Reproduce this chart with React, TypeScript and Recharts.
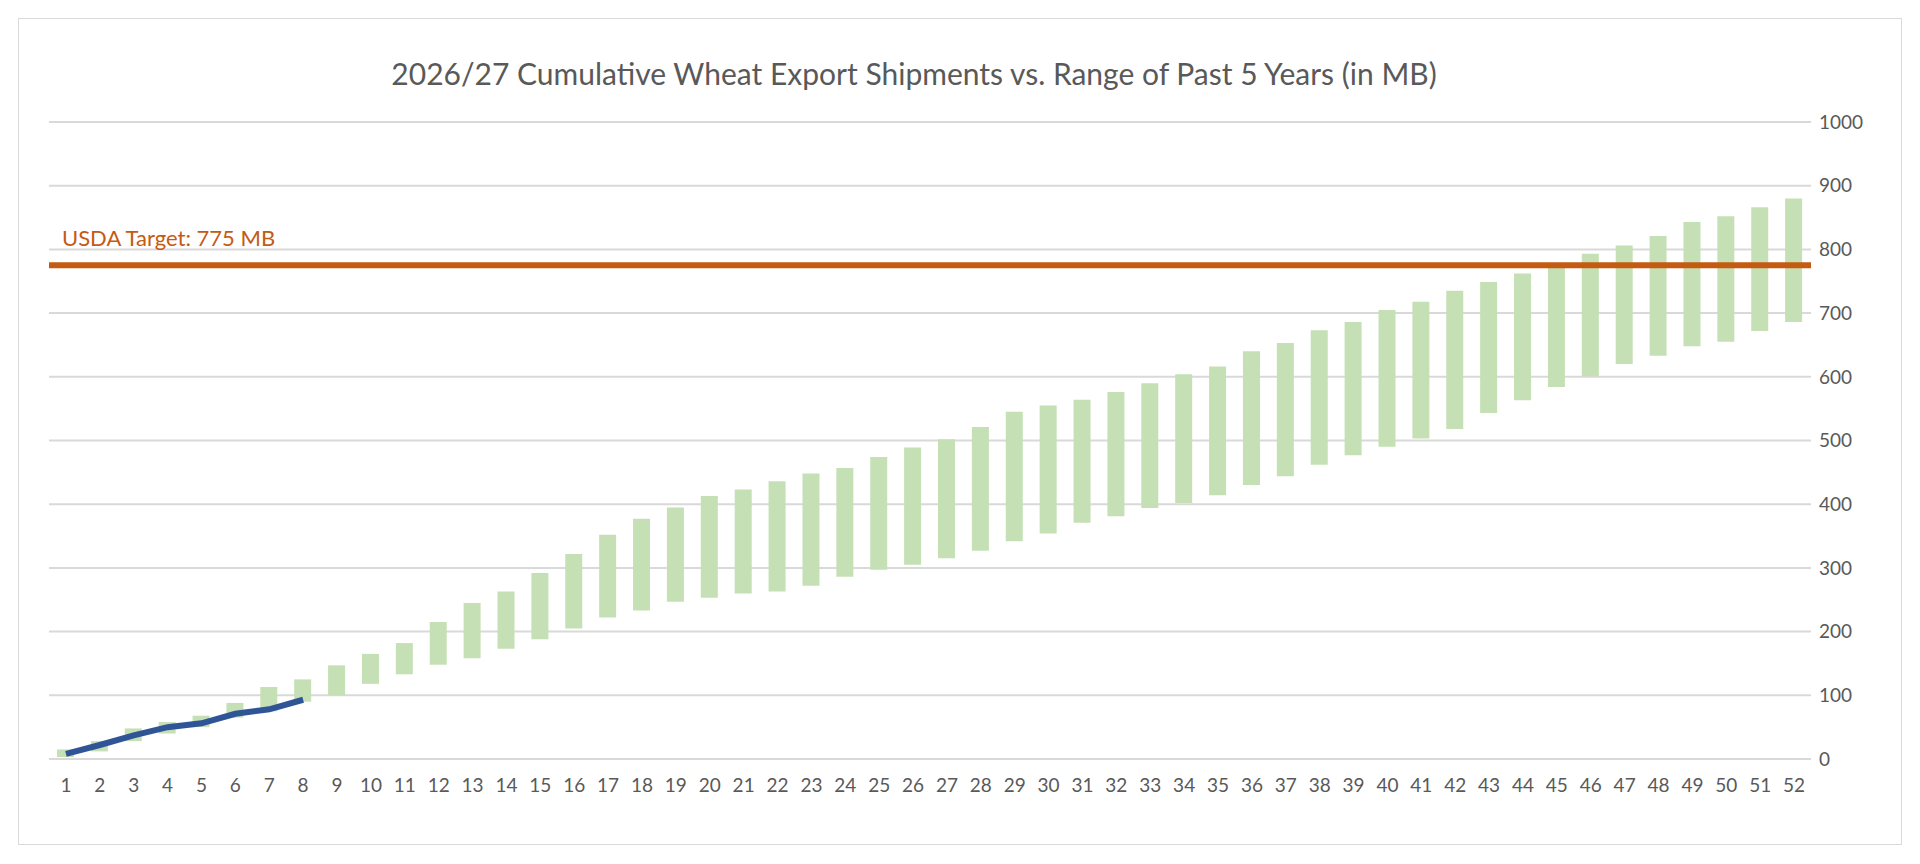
import { Bar, ComposedChart, CartesianGrid, Line, ReferenceLine, XAxis, YAxis } from 'recharts'

const weeks = Array.from({ length: 52 }, (_, i) => String(i + 1))
const rangeLow = [3, 12, 28, 40, 50, 65, 75, 90, 100, 118, 133, 148, 158, 173, 188, 205, 222, 233, 247, 253, 260, 263, 272, 286, 297, 305, 315, 327, 342, 354, 371, 381, 394, 402, 414, 430, 444, 462, 477, 490, 503, 518, 543, 563, 584, 601, 620, 633, 648, 655, 672, 686]
const rangeHigh = [15, 28, 48, 58, 68, 88, 113, 125, 147, 165, 182, 215, 245, 263, 292, 322, 352, 377, 395, 413, 423, 436, 448, 457, 474, 489, 502, 521, 545, 555, 564, 576, 590, 604, 616, 640, 653, 673, 686, 705, 718, 735, 749, 762, 777, 793, 806, 821, 843, 852, 866, 880]
const current = [8, 22, 37, 50, 56, 71, 78, 93]
const yTicks = [0, 100, 200, 300, 400, 500, 600, 700, 800, 900, 1000]
const target = 775

const data = weeks.map((w, i) => ({
  week: w,
  range: [rangeLow[i], rangeHigh[i]],
  current: i < current.length ? current[i] : null,
}))

const font = 'Lato, "Open Sans", sans-serif'
const tick = { fill: '#595959', fontSize: 19, fontFamily: font }

export default function App() {
  return (
    <div style={{ position: 'absolute', left: 18, top: 18, width: 1882, height: 825, border: '1px solid #d9d9d9', background: '#fff' }}>
      <div style={{ position: 'absolute', top: 36, left: 0, width: 1790, textAlign: 'center', fontFamily: font, fontSize: 30, color: '#595959' }}>
        2026/27 Cumulative Wheat Export Shipments vs. Range of Past 5 Years (in MB)
      </div>
      <ComposedChart width={1882} height={825} data={data} margin={{ top: 103, right: 25, left: 30, bottom: 55 }}>
        <CartesianGrid vertical={false} stroke="#d9d9d9" strokeWidth={2} />
        <XAxis dataKey="week" tick={tick} tickLine={false} axisLine={false} interval={0} tickMargin={14} height={30} />
        <YAxis orientation="right" domain={[0, 1000]} ticks={yTicks} tick={tick} tickLine={false} axisLine={false} width={65} />
        <Bar dataKey="range" fill="#c5e0b4" barSize={17} isAnimationActive={false} />
        <ReferenceLine
          y={target}
          stroke="#c55a11"
          strokeWidth={6}
          label={{ value: 'USDA Target: 775 MB', position: 'insideTopLeft', fill: '#c55a11', fontSize: 22, fontFamily: font, dx: 8, dy: -40 }}
        />
        <Line dataKey="current" stroke="#2f5597" strokeWidth={6} dot={false} connectNulls={false} isAnimationActive={false} />
      </ComposedChart>
    </div>
  )
}
